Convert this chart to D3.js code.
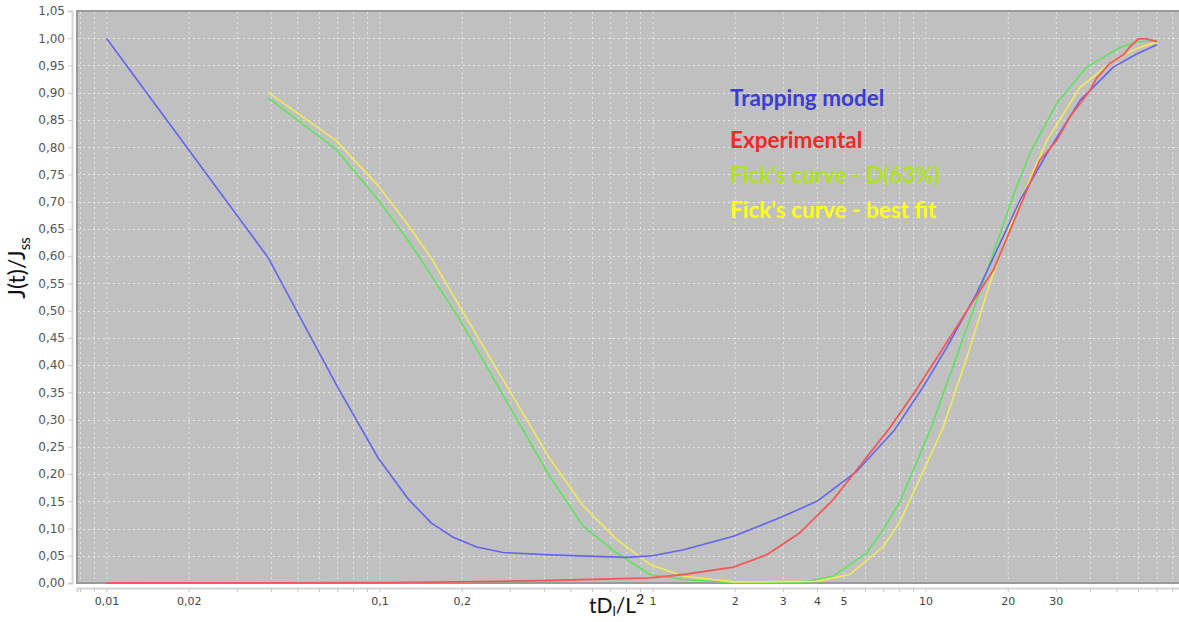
<!DOCTYPE html>
<html>
<head>
<meta charset="utf-8">
<script src="https://cdn.jsdelivr.net/npm/d3@7/dist/d3.min.js"></script>
<style>
  body { margin: 0; background: #fff; }
  svg { display: block; }
</style>
</head>
<body>
<div id="chart"></div>
<script>
// x axis labels (only these are written under the axis)
var xLabelValues = [0.01, 0.02, 0.1, 0.2, 1, 2, 3, 4, 5, 10, 20, 30];
var yTickValues = [0, 0.05, 0.10, 0.15, 0.20, 0.25, 0.30, 0.35, 0.40, 0.45, 0.50,
                   0.55, 0.60, 0.65, 0.70, 0.75, 0.80, 0.85, 0.90, 0.95, 1.00, 1.05];

// series, [tDl/L2, J(t)/Jss]
var trapping = [[0.01, 1.0], [0.039, 0.598], [0.070, 0.361], [0.099, 0.229], [0.128, 0.153],
  [0.155, 0.110], [0.186, 0.084], [0.227, 0.066], [0.284, 0.056], [0.42, 0.0516],
  [0.80, 0.047], [1.0, 0.050], [1.3, 0.061], [1.98, 0.086], [3.0, 0.122], [4.0, 0.150],
  [5.6, 0.205], [7.7, 0.281], [9.8, 0.360], [12.0, 0.434], [15.4, 0.532], [22.2, 0.703],
  [27.8, 0.788], [36.8, 0.886], [48.7, 0.947], [59.3, 0.971], [70.3, 0.988]];

var experimental = [[0.01, 0], [0.1, 0.0005], [0.2, 0.002], [0.42, 0.0046], [0.98, 0.0095],
  [1.3, 0.0156], [1.98, 0.029], [2.62, 0.052], [3.46, 0.092], [4.59, 0.153], [5.6, 0.208],
  [7.3, 0.281], [9.15, 0.351], [12.0, 0.443], [15.0, 0.519], [17.7, 0.574], [23.5, 0.721],
  [26.2, 0.776], [30.2, 0.812], [33.7, 0.855], [40.0, 0.904], [42.2, 0.926], [47.1, 0.953],
  [53.5, 0.971], [55.7, 0.983], [60.2, 0.999], [64.5, 0.999], [70.3, 0.994]];

var fickD63 = [[0.039, 0.891], [0.069, 0.797], [0.099, 0.703], [0.126, 0.632], [0.141, 0.596],
  [0.197, 0.483], [0.276, 0.355], [0.421, 0.195], [0.558, 0.104], [0.739, 0.055],
  [0.979, 0.0156], [1.3, 0.0064], [1.98, 0.0005], [3.46, 0.001], [4.59, 0.0125],
  [6.08, 0.055], [7.0, 0.098], [8.07, 0.150], [10.4, 0.281], [13.0, 0.416], [15.4, 0.519],
  [18.2, 0.623], [21.3, 0.721], [24.1, 0.788], [30.2, 0.880], [38.9, 0.947], [51.5, 0.983],
  [59.3, 0.993], [70.3, 0.996]];

var fickBest = [[0.039, 0.901], [0.069, 0.813], [0.099, 0.729], [0.126, 0.660], [0.155, 0.596],
  [0.197, 0.507], [0.301, 0.351], [0.421, 0.228], [0.558, 0.141], [0.739, 0.080],
  [0.979, 0.034], [1.3, 0.0125], [1.98, 0.002], [4.0, 0.003], [5.28, 0.0156], [7.0, 0.067],
  [8.07, 0.113], [11.5, 0.281], [14.2, 0.416], [17.2, 0.550], [21.0, 0.672], [27.8, 0.812],
  [36.8, 0.910], [48.7, 0.959], [59.3, 0.981], [70.3, 0.993]];

var legendLabels = ["Trapping model", "Experimental", "Fick's curve - D(63%)", "Fick's curve - best fit"];

var width = 1179, height = 622;
var plot = {left: 77, top: 11, bottom: 583, right: 1190};

var svg = d3.select("#chart").append("svg")
    .attr("width", width)
    .attr("height", height);

var x = d3.scaleLog().domain([0.0078, 93]).range([plot.left, plot.right]);
var y = d3.scaleLinear().domain([0, 1.05]).range([plot.bottom, plot.top]);
var comma = function (v, digits) { return v.toFixed(digits).replace(".", ","); };

// plot background
svg.append("rect")
    .attr("x", plot.left).attr("y", plot.top)
    .attr("width", plot.right - plot.left).attr("height", plot.bottom - plot.top)
    .attr("fill", "#c0c0c0")
    .attr("stroke", "#9a9a9a")
    .attr("stroke-width", 2);

// dashed grid
var grid = svg.append("g").attr("stroke", "#e6e6e6").attr("stroke-dasharray", "2,3").attr("stroke-width", 1);
grid.selectAll("line.v").data(x.ticks()).enter().append("line")
    .attr("x1", function (d) { return x(d) + 0.5; }).attr("x2", function (d) { return x(d) + 0.5; })
    .attr("y1", plot.top + 1).attr("y2", plot.bottom - 1);
grid.selectAll("line.h").data(yTickValues.slice(1, -1)).enter().append("line")
    .attr("x1", plot.left + 1).attr("x2", plot.right)
    .attr("y1", function (d) { return Math.round(y(d)) + 0.5; })
    .attr("y2", function (d) { return Math.round(y(d)) + 0.5; });

// y axis (detached a few px to the left of the plot)
var yAxis = d3.axisLeft(y).tickValues(yTickValues).tickSize(4).tickPadding(3)
    .tickFormat(function (d) { return comma(d, 2); });
var gy = svg.append("g").attr("transform", "translate(72,0)").call(yAxis);
gy.select(".domain").attr("stroke", "#d4d4d4").attr("stroke-width", 2);
gy.selectAll(".tick line").attr("stroke", "#c8c8c8");
gy.selectAll("text").attr("fill", "#555").style("font", "12px 'DejaVu Sans'");

// x axis (detached a few px below)
var xAxis = d3.axisBottom(x).tickValues(x.ticks()).tickSize(4).tickPadding(5)
    .tickFormat(function (d) {
        if (xLabelValues.indexOf(+d.toPrecision(6)) < 0) return "";
        return d < 1 ? comma(d, d < 0.1 ? 2 : 1) : String(d);
    });
var gx = svg.append("g").attr("transform", "translate(0,588)").call(xAxis);
gx.select(".domain").attr("stroke", "#d4d4d4").attr("stroke-width", 2);
gx.selectAll(".tick line").attr("stroke", "#c8c8c8");
gx.selectAll("text").attr("fill", "#444").style("font", "11px 'DejaVu Sans'");

// curves
var line = d3.line().x(function (d) { return x(d[0]); }).y(function (d) { return y(d[1]); });
var series = [
    {data: fickD63, color: "#5ee25e", w: 1.6},
    {data: fickBest, color: "#f0ea58", w: 1.6},
    {data: trapping, color: "#6464ee", w: 1.6},
    {data: experimental, color: "#ef5a5a", w: 1.8}
];
svg.append("g").selectAll("path").data(series).enter().append("path")
    .attr("d", function (d) { return line(d.data); })
    .attr("fill", "none")
    .attr("stroke", function (d) { return d.color; })
    .attr("stroke-width", function (d) { return d.w; })
    .attr("stroke-linejoin", "round");

// legend written as coloured text inside the plot
var legendColors = ["#3c3cd2", "#f02828", "#aee21e", "#ffff10"];
var legendBaselines = [106, 148, 183, 218];
svg.append("g").selectAll("text").data(legendLabels).enter().append("text")
    .attr("x", 730)
    .attr("y", function (d, i) { return legendBaselines[i]; })
    .attr("fill", function (d, i) { return legendColors[i]; })
    .style("font", "bold 22.5px Lato")
    .text(function (d) { return d; });

// axis titles
var yt = svg.append("text")
    .attr("transform", "translate(25,268) rotate(-90)")
    .attr("text-anchor", "middle")
    .attr("fill", "#111")
    .style("font", "23px Lato");
yt.append("tspan").text("J(t)/J");
yt.append("tspan").attr("dy", 5).style("font-size", "15px").text("ss");

var xt = svg.append("text")
    .attr("x", 589).attr("y", 613)
    .attr("fill", "#111")
    .style("font", "21px Lato");
xt.append("tspan").text("tD");
xt.append("tspan").attr("dy", 3).style("font-size", "14px").text("l");
xt.append("tspan").attr("dy", -3).text("/L");
xt.append("tspan").attr("dy", -9).style("font-size", "14px").text("2");
</script>
</body>
</html>
